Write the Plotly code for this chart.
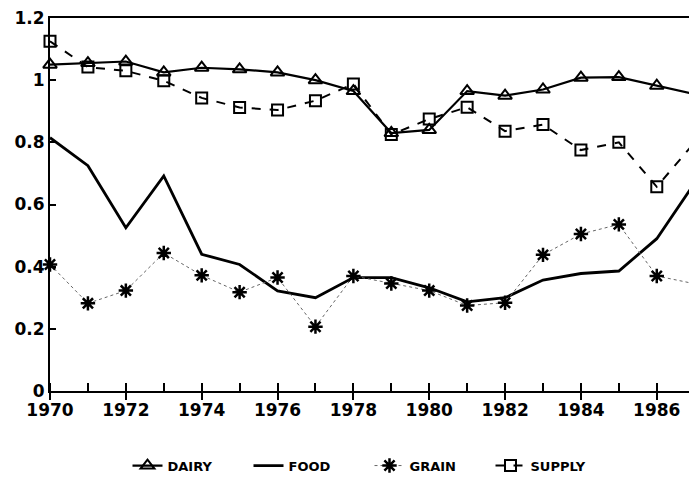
import plotly.graph_objects as go

years = list(range(1970, 1988))
dairy = [1.05, 1.055, 1.06, 1.025, 1.04, 1.035, 1.025, 1.0, 0.965, 0.83, 0.84, 0.965, 0.95, 0.97, 1.008, 1.01, 0.982, 0.955]
food = [0.815, 0.725, 0.525, 0.692, 0.44, 0.407, 0.322, 0.30, 0.365, 0.365, 0.332, 0.287, 0.30, 0.357, 0.378, 0.386, 0.49, 0.67]
grain = [0.407, 0.282, 0.323, 0.444, 0.372, 0.318, 0.365, 0.207, 0.37, 0.346, 0.323, 0.275, 0.284, 0.438, 0.505, 0.536, 0.37, 0.345]
supply = [1.125, 1.042, 1.03, 0.998, 0.943, 0.912, 0.904, 0.934, 0.988, 0.825, 0.875, 0.913, 0.836, 0.857, 0.775, 0.80, 0.657, 0.80]

x_ticks = [1970, 1972, 1974, 1976, 1978, 1980, 1982, 1984, 1986]
y_ticks = [0, 0.2, 0.4, 0.6, 0.8, 1, 1.2]

font_fam = "DejaVu Sans"

fig = go.Figure()
fig.add_trace(go.Scatter(
    x=years, y=dairy, name="DAIRY", mode="lines+markers",
    line=dict(color="black", width=2.2),
    marker=dict(symbol="triangle-up-open", size=12, color="black", line=dict(width=2, color="black")),
    cliponaxis=False))
fig.add_trace(go.Scatter(
    x=years, y=food, name="FOOD", mode="lines",
    line=dict(color="black", width=2.8)))
fig.add_trace(go.Scatter(
    x=years, y=grain, name="GRAIN", mode="lines+markers",
    line=dict(color="#666666", width=1, dash="dot"),
    marker=dict(symbol="asterisk-open", size=12, color="black", line=dict(width=2.5, color="black")),
    cliponaxis=False))
fig.add_trace(go.Scatter(
    x=years, y=supply, name="SUPPLY", mode="lines+markers",
    line=dict(color="black", width=2, dash="dash"),
    marker=dict(symbol="square-open", size=11, color="black", line=dict(width=2, color="black")),
    cliponaxis=False))

fig.update_layout(
    width=689, height=482,
    margin=dict(l=50, r=0, t=18, b=91),
    paper_bgcolor="white", plot_bgcolor="white",
    font=dict(family=font_fam, color="black"),
    showlegend=True,
    legend=dict(orientation="h", x=0.5, xanchor="center", y=-0.2, yanchor="middle",
                font=dict(family=font_fam, size=13, weight="bold"),
                entrywidth=76, entrywidthmode="pixels", itemwidth=30),
    xaxis=dict(range=[1970, 1986.85], tickvals=x_ticks, ticktext=[str(v) for v in x_ticks],
               showgrid=False, zeroline=False, showline=True, linecolor="black", linewidth=2,
               mirror=True, ticks="outside", ticklen=7, tickwidth=2, tickcolor="black",
               ticklabelstandoff=-4,
               minor=dict(dtick=1, tick0=1970, ticks="inside", ticklen=8, tickwidth=2, tickcolor="black", showgrid=False),
               tickfont=dict(family=font_fam, size=17, weight="bold")),
    yaxis=dict(range=[0, 1.2], tickvals=y_ticks, ticktext=["0", "0.2", "0.4", "0.6", "0.8", "1", "1.2"],
               showgrid=False, zeroline=False, showline=True, linecolor="black", linewidth=2,
               mirror=False, ticks="inside", ticklen=6, tickwidth=2, tickcolor="black",
               ticklabeloverflow="allow",
               tickfont=dict(family=font_fam, size=17, weight="bold")),
)

# remove the browser's default 8px body margin so the 689x482 figure fills the window exactly
fig.write_html("out.html", config={"displayModeBar": False},
               post_script="document.body.style.margin='0px';document.body.style.overflow='hidden';")
